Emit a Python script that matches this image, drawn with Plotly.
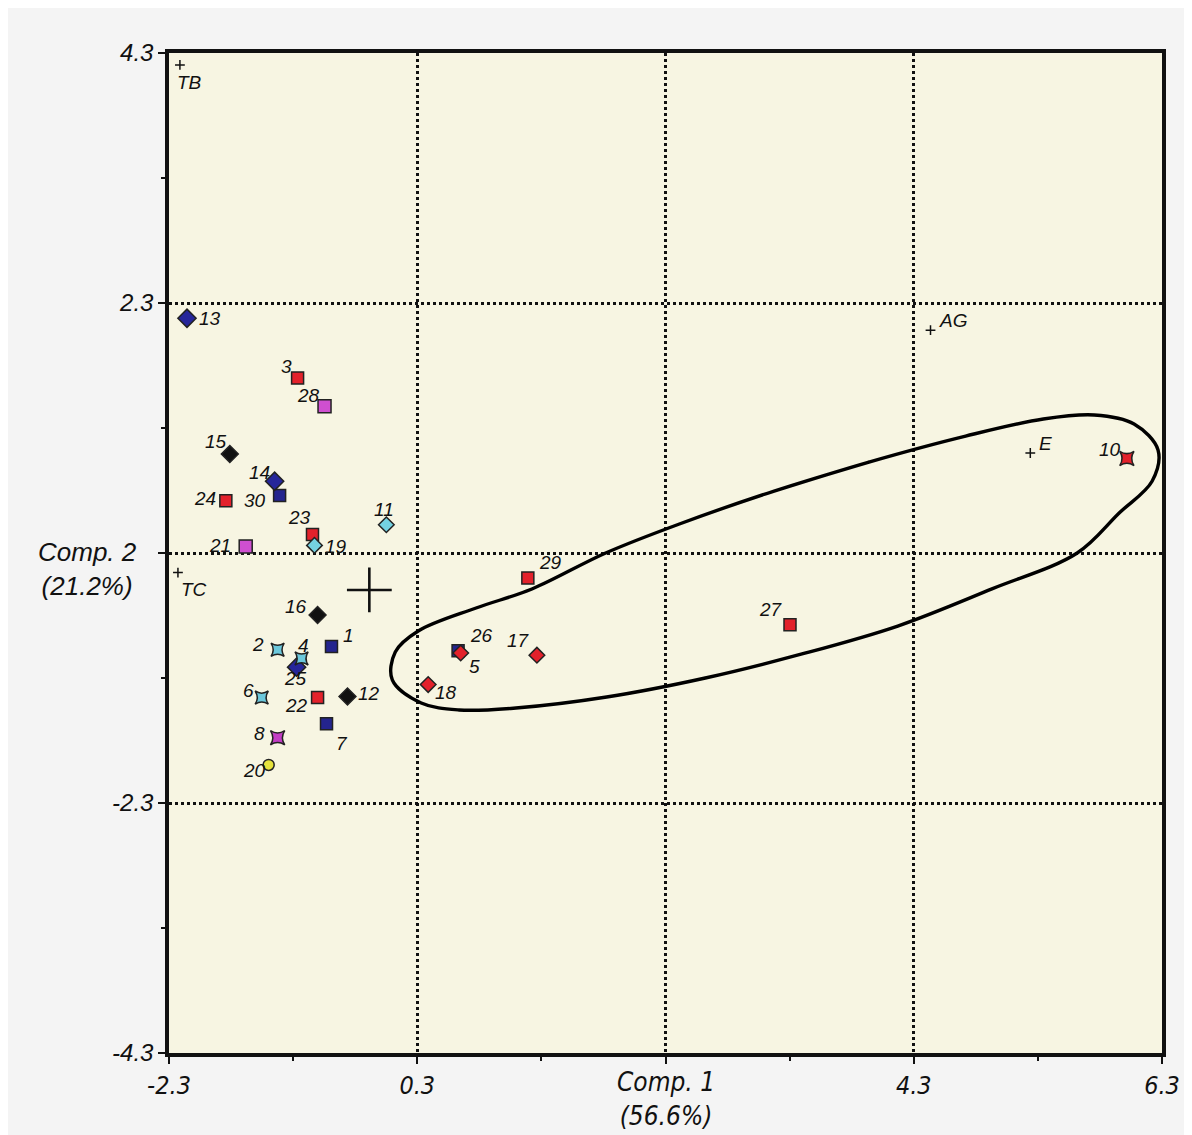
import plotly.graph_objects as go

# ---------------- data ----------------
obs_labels = ["13", "3", "28", "15", "14", "30", "24", "23", "19", "11", "21", "29",
              "16", "1", "2", "4", "25", "6", "22", "12", "7", "8", "20",
              "26", "5", "17", "18", "27", "10"]
obs_x = [-1.555, -0.664, -0.447, -1.21, -0.849, -0.809, -1.242, -0.544, -0.528, 0.051, -1.082, 1.191,
         -0.503, -0.391, -0.825, -0.632, -0.672, -0.953, -0.503, -0.262, -0.431, -0.825, -0.897,
         0.629, 0.65, 1.264, 0.388, 3.303, 6.017]
obs_y = [2.16, 1.61, 1.35, 0.91, 0.66, 0.53, 0.48, 0.17, 0.07, 0.26, 0.06, -0.23,
         -0.57, -0.86, -0.89, -0.97, -1.05, -1.33, -1.33, -1.32, -1.57, -1.70, -1.95,
         -0.90, -0.92, -0.94, -1.21, -0.66, 0.87]
obs_group = ["navy_d", "red_s", "mag_s", "black_d", "navy_d", "navy_s", "red_s", "red_s", "cyan_d", "cyan_d", "mag_s", "red_s",
             "black_d", "navy_s", "cyan_x", "cyan_x", "navy_d", "cyan_x", "red_s", "black_d", "navy_s", "mag_x", "yellow_c",
             "navy_s", "red_d", "red_d", "red_d", "red_s", "red_x"]

var_labels = ["TB", "TC", "AG", "E"]
var_x = [-1.612, -1.628, 4.435, 5.239]
var_y = [4.49, -0.18, 2.05, 0.92]

centroid_x = [-0.086]
centroid_y = [-0.34]

# outline of the grouping contour, clockwise from the upper edge
contour_x = [3.175, 3.939, 4.718, 5.344, 5.754, 6.075, 6.268, 6.220, 5.955, 5.617, 4.930, 4.171,
             3.400, 2.621, 1.826, 1.095, 0.637, 0.332, 0.099, 0.123, 0.308, 0.774, 1.224, 1.818, 2.412]
contour_y = [0.570, 0.837, 1.076, 1.233, 1.270, 1.187, 0.948, 0.660, 0.368, 0.0, -0.330, -0.672,
             -0.929, -1.150, -1.325, -1.426, -1.444, -1.380, -1.168, -0.911, -0.718, -0.506, -0.331, 0.0, 0.267]

x_tickvals = [-1.7, 0.3, 2.3, 4.3, 6.3]
x_ticktext = ["-2.3", "0.3", "", "4.3", "6.3"]
y_tickvals = [-4.6, -2.3, 0, 2.3, 4.6]
y_ticktext = ["-4.3", "-2.3", "", "2.3", "4.3"]

# ---------------- styles ----------------
group_style = {
    "red_s":   dict(symbol="square", color="#e3212b", size=12),
    "mag_s":   dict(symbol="square", color="#cf4fd0", size=13),
    "navy_s":  dict(symbol="square", color="#24248e", size=12),
    "navy_d":  dict(symbol="diamond", color="#26269a", size=14),
    "black_d": dict(symbol="diamond", color="#111111", size=13),
    "cyan_d":  dict(symbol="diamond", color="#74d2e2", size=12),
    "cyan_x":  dict(symbol="star-square", color="#6cc8dc", size=12),
    "mag_x":   dict(symbol="star-square", color="#c23cc4", size=13),
    "red_x":   dict(symbol="star-square", color="#e3212b", size=13),
    "yellow_c": dict(symbol="circle", color="#e6e23c", size=11),
    "red_d":   dict(symbol="diamond", color="#e3212b", size=12),
}

# label offsets in screen pixels (dx right, dy up)
obs_label_offsets = [(23, 0), (-11, 12), (-16, 11), (-14, 13), (-15, 9), (-25, -5), (-21, 2),
                     (-13, 17), (22, -1), (-2, 15), (-26, 1), (23, 16), (-22, 8), (17, 11),
                     (-20, 5), (2, 13), (-1, -11), (-13, 7), (-21, -8), (22, 3), (15, -20),
                     (-18, 4), (-14, -6), (23, 15), (14, -13), (-18, 15), (18, -8), (-19, 15),
                     (-17, 9)]
var_label_offsets = [(10, -18), (16, -17), (22, 10), (15, 10)]

label_font = dict(family="Liberation Sans, Arial, sans-serif", size=19, color="#111111", style="italic")

fig = go.Figure()

# closed smooth contour (first points repeated so the spline closes on a straight stretch)
cx = contour_x + contour_x[:2]
cy = contour_y + contour_y[:2]
fig.add_trace(go.Scatter(x=cx, y=cy, mode="lines",
                         line=dict(color="black", width=3.4, shape="spline", smoothing=1.0),
                         hoverinfo="skip", showlegend=False))

# observations grouped by style
for g, st in group_style.items():
    idx = [i for i, gg in enumerate(obs_group) if gg == g]
    fig.add_trace(go.Scatter(
        x=[obs_x[i] for i in idx], y=[obs_y[i] for i in idx],
        mode="markers", showlegend=False,
        marker=dict(symbol=st["symbol"], color=st["color"], size=st["size"],
                    line=dict(color="#222222", width=1.5)),
    ))

# variables
fig.add_trace(go.Scatter(x=var_x, y=var_y, mode="markers", showlegend=False,
                         marker=dict(symbol="cross-thin-open", size=7, color="#111111",
                                     line=dict(color="#111111", width=1.5))))

# centroid
fig.add_trace(go.Scatter(x=centroid_x, y=centroid_y, mode="markers", showlegend=False,
                         marker=dict(symbol="cross-thin-open", size=32, color="#111111",
                                     line=dict(color="#111111", width=2.6))))

# point labels
for lab, x, y, (dx, dy) in zip(obs_labels + var_labels, obs_x + var_x, obs_y + var_y,
                               obs_label_offsets + var_label_offsets):
    fig.add_annotation(x=x, y=y, text=lab, showarrow=False, xshift=dx, yshift=dy,
                       xanchor="center", yanchor="middle", font=label_font)

axis_common = dict(showline=True, linewidth=3.5, linecolor="#111111", mirror=True,
                   showgrid=True, gridcolor="#111111", gridwidth=3, griddash="dot",
                   zeroline=False, ticks="outside", ticklen=7, tickwidth=2, tickcolor="#111111")

fig.update_xaxes(range=[-1.7, 6.3], tickmode="array", tickvals=x_tickvals, ticktext=x_ticktext,
                 tickfont=dict(family="Liberation Sans Narrow, DejaVu Sans Condensed, Liberation Sans, Arial",
                               size=25, color="#111111", style="italic"),
                 minor=dict(tick0=-0.7, dtick=1, ticks="outside", ticklen=4, tickwidth=2,
                            tickcolor="#111111", showgrid=False),
                 **axis_common)
fig.update_yaxes(range=[-4.6, 4.6], tickmode="array", tickvals=y_tickvals, ticktext=y_ticktext,
                 tickfont=dict(family="Liberation Sans, Arial", size=24, color="#111111", style="italic"),
                 minor=dict(tick0=1.15, dtick=2.3, ticks="outside", ticklen=4, tickwidth=2,
                            tickcolor="#111111", showgrid=False),
                 **axis_common)

title_font = dict(family="Liberation Sans, Arial", size=26, color="#111111", style="italic")
fig.add_annotation(text="Comp. 2<br>(21.2%)", xref="paper", yref="y", x=0, y=0,
                   xanchor="right", yanchor="top", xshift=-30, yshift=18,
                   showarrow=False, align="center", font=title_font)
fig.add_annotation(text="Comp. 1<br>(56.6%)", xref="x", yref="paper", x=2.3, y=0,
                   xanchor="center", yanchor="top", yshift=-12,
                   showarrow=False, align="center",
                   font=dict(family="Liberation Sans Narrow, DejaVu Sans Condensed, Liberation Sans, Arial",
                             size=26, color="#111111", style="italic"))

fig.update_layout(width=1184, height=1127,
                  margin=dict(l=161, r=26, t=45, b=82),
                  plot_bgcolor="#f7f5e2", paper_bgcolor="#f4f4f4",
                  showlegend=False)

fig.write_html("out.html")
